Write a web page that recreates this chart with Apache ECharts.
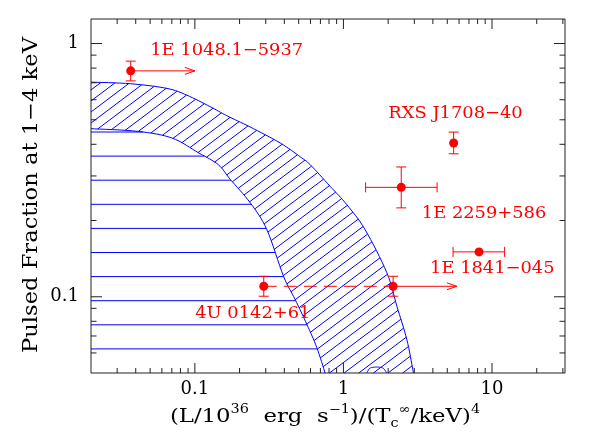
<!DOCTYPE html>
<html>
<head>
<meta charset="utf-8">
<script src="https://cdn.jsdelivr.net/npm/echarts@6/dist/echarts.min.js"></script>
<style>
  html, body { margin: 0; padding: 0; background: #fff; }
  #chart { width: 589px; height: 442px; }
</style>
</head>
<body>
<div id="chart"></div>
<script>
// axis ranges and tick labels
const xRange = [0.02, 31];
const yRange = [0.05, 1.25];
const xTickLabels = [0.1, 1, 10];
const yTickLabels = [0.1, 1];
const minorSteps = [2, 3, 4, 5, 6, 7, 8, 9];
const decades = [0.01, 0.1, 1, 10];

// upper edge of the hatched band
const upperX = [0.02, 0.0368, 0.0649, 0.0885, 0.127, 0.164, 0.236, 0.375, 0.512, 0.597, 0.814, 1.054, 1.40, 1.96, 2.29, 2.67, 2.93, 2.96];
const upperY = [0.704, 0.694, 0.665, 0.625, 0.563, 0.519, 0.468, 0.405, 0.357, 0.3325, 0.273, 0.231, 0.184, 0.1244, 0.0918, 0.0679, 0.0517, 0.05];
// lower edge of the band (top of the horizontally hatched region)
const lowerX = [0.02, 0.0413, 0.0701, 0.106, 0.1437, 0.173, 0.236, 0.3054, 0.395, 0.473, 0.5675, 0.662, 0.753];
const lowerY = [0.461, 0.450, 0.4236, 0.370, 0.3325, 0.291, 0.235, 0.184, 0.1206, 0.0976, 0.0778, 0.063, 0.05];
// small bump at the foot of the band
const bumpX = [1.436, 1.50, 1.60, 1.75, 1.86, 1.958];
const bumpY = [0.05, 0.0521, 0.0527, 0.0527, 0.0521, 0.05];

// sources
const pointX = [0.037, 5.52, 2.45, 8.18, 0.291, 2.16];
const pointY = [0.78, 0.405, 0.2705, 0.1504, 0.110, 0.110];
const yErrLo = [0.712, 0.367, 0.2244, null, 0.1005, 0.1005];
const yErrHi = [0.852, 0.447, 0.3255, null, 0.1205, 0.1205];
const xErrLo = [null, null, 1.41, 5.47, null, null];
const xErrHi = [null, null, 4.27, 12.16, null, null];
const limitTo = [0.1, null, null, null, null, 5.8];   // lower-limit arrows
const dashX = [0.291, 2.16];
const dashY = [0.110, 0.110];

const labelText = ['1E 1048.1\u22125937', 'RXS J1708\u221240', '1E 2259+586', '1E 1841\u2212045', '4U 0142+61'];
const labelX = [0.0501, 2.007, 3.37, 3.83, 0.1006];
const labelY = [0.936, 0.530, 0.2125, 0.1293, 0.0855];

const blue = '#0000ff';
const red = '#ff0000';
const serif = 'DejaVu Serif';

const chart = echarts.init(document.getElementById('chart'));

function px(api, xs, ys) {
  return xs.map((x, i) => api.coord([x, ys[i]]));
}

// Catmull-Rom smoothing of a pixel polyline
function smooth(pts, steps) {
  const out = [pts[0]];
  for (let i = 0; i < pts.length - 1; i++) {
    const p0 = pts[Math.max(i - 1, 0)], p1 = pts[i], p2 = pts[i + 1], p3 = pts[Math.min(i + 2, pts.length - 1)];
    for (let k = 1; k <= steps; k++) {
      const t = k / steps, t2 = t * t, t3 = t2 * t;
      const f = (a, b, c, d) => 0.5 * (2 * b + (-a + c) * t + (2 * a - 5 * b + 4 * c - d) * t2 + (-a + 3 * b - 3 * c + d) * t3);
      out.push([f(p0[0], p1[0], p2[0], p3[0]), f(p0[1], p1[1], p2[1], p3[1])]);
    }
  }
  return out;
}

// hatch lines inside a pixel polygon
function hatch(poly, angle, spacing, phase) {
  const s = Math.sin(angle), c = Math.cos(angle);
  const proj = poly.map(p => p[0] * s + p[1] * c);
  const lo = Math.min(...proj), hi = Math.max(...proj);
  let path = '';
  for (let k = Math.ceil((lo - phase) / spacing); phase + k * spacing < hi; k++) {
    const cc = phase + k * spacing;
    const pts = [];
    for (let i = 0; i < poly.length; i++) {
      const j = (i + 1) % poly.length;
      const va = proj[i] - cc, vb = proj[j] - cc;
      if ((va < 0) !== (vb < 0)) {
        const t = va / (va - vb);
        pts.push([poly[i][0] + t * (poly[j][0] - poly[i][0]), poly[i][1] + t * (poly[j][1] - poly[i][1])]);
      }
    }
    pts.sort((p, q) => (p[0] * c - p[1] * s) - (q[0] * c - q[1] * s));
    for (let m = 0; m + 1 < pts.length; m += 2) {
      path += 'M' + pts[m][0] + ' ' + pts[m][1] + 'L' + pts[m + 1][0] + ' ' + pts[m + 1][1];
    }
  }
  return path;
}

function renderBand(params, api) {
  const up = smooth(px(api, upperX, upperY), 8);
  const low = smooth(px(api, lowerX, lowerY), 8);
  const corner = api.coord([xRange[0], yRange[0]]);
  const bottom = corner[1];
  const band = up.concat(low.slice().reverse());
  const under = low.concat([corner]);
  const diag = hatch(band, 37 * Math.PI / 180, 8.8, bottom);
  const horiz = hatch(under, 0, 24.1, bottom - 24.1 * 100);
  const lineStyle = { stroke: blue, fill: null, lineWidth: 1 };
  const children = [];
  if (diag) children.push({ type: 'path', shape: { pathData: diag }, style: lineStyle });
  if (horiz) children.push({ type: 'path', shape: { pathData: horiz }, style: lineStyle });
  children.push({ type: 'polyline', shape: { points: up }, style: lineStyle });
  children.push({ type: 'polyline', shape: { points: low }, style: lineStyle });
  children.push({ type: 'polyline', shape: { points: smooth(px(api, bumpX, bumpY), 6) }, style: lineStyle });
  return { type: 'group', children };
}

function renderTicks(params, api) {
  let path = '';
  const seg = (a, b) => { path += 'M' + a[0] + ' ' + a[1] + 'L' + b[0] + ' ' + b[1]; };
  const inRange = (v, r) => v > r[0] * 1.0001 && v < r[1] * 0.9999;
  const xt = [], yt = [];
  decades.forEach(d => {
    if (inRange(d, xRange)) xt.push([d, 10]);
    if (inRange(d, yRange)) yt.push([d, 11]);
    minorSteps.forEach(m => {
      const v = +(m * d).toPrecision(6);
      if (inRange(v, xRange)) xt.push([v, 5]);
      if (inRange(v, yRange)) yt.push([v, 5.5]);
    });
  });
  xt.forEach(([v, len]) => {
    const b = api.coord([v, yRange[0]]), t = api.coord([v, yRange[1]]);
    seg(b, [b[0], b[1] - len]);
    seg(t, [t[0], t[1] + len]);
  });
  yt.forEach(([v, len]) => {
    const l = api.coord([xRange[0], v]), r = api.coord([xRange[1], v]);
    seg(l, [l[0] + len, l[1]]);
    seg(r, [r[0] - len, r[1]]);
  });
  return { type: 'path', shape: { pathData: path }, style: { stroke: '#222', fill: null, lineWidth: 1 } };
}

function renderErrors(params, api) {
  const children = [];
  const cap = 5;
  const line = (a, b, dash) => children.push({
    type: 'line', shape: { x1: a[0], y1: a[1], x2: b[0], y2: b[1] },
    style: { stroke: red, lineWidth: 1, lineDash: dash || null }
  });
  for (let i = 0; i < pointX.length; i++) {
    const p = api.coord([pointX[i], pointY[i]]);
    if (yErrLo[i] != null) {
      const lo = api.coord([pointX[i], yErrLo[i]]), hi = api.coord([pointX[i], yErrHi[i]]);
      line(lo, hi);
      line([lo[0] - cap, lo[1]], [lo[0] + cap, lo[1]]);
      line([hi[0] - cap, hi[1]], [hi[0] + cap, hi[1]]);
    }
    if (xErrLo[i] != null) {
      const lo = api.coord([xErrLo[i], pointY[i]]), hi = api.coord([xErrHi[i], pointY[i]]);
      line(lo, hi);
      line([lo[0], lo[1] - cap], [lo[0], lo[1] + cap]);
      line([hi[0], hi[1] - cap], [hi[0], hi[1] + cap]);
    }
    if (limitTo[i] != null) {
      const t = api.coord([limitTo[i], pointY[i]]);
      line(p, t);
      line(t, [t[0] - 10, t[1] - 3.5]);
      line(t, [t[0] - 10, t[1] + 3.5]);
    }
  }
  const d = px(api, dashX, dashY);
  line(d[0], d[1], [13, 7]);
  return { type: 'group', children };
}

function renderLabels(params, api) {
  return {
    type: 'group',
    children: labelText.map((t, i) => {
      const p = api.coord([labelX[i], labelY[i]]);
      return {
        type: 'text', x: p[0], y: p[1], scaleX: 1.05,
        style: {
          text: t, fill: red, fontFamily: serif, fontSize: 17,
          align: 'left', verticalAlign: 'middle', textAlign: 'left', textVerticalAlign: 'middle'
        }
      };
    })
  };
}

function tickFormatter(list) {
  return v => {
    const m = list.find(t => Math.abs(t - v) < t * 1e-6);
    return m === undefined ? '' : String(m);
  };
}

const dummy = [[1, 0.1]];

chart.setOption({
  animation: false,
  backgroundColor: '#fff',
  grid: {
    left: 91, right: 24, top: 19, bottom: 69,
    show: true, borderColor: '#222', borderWidth: 1,
    outerBoundsMode: 'none'
  },
  xAxis: {
    type: 'log', logBase: 10, min: xRange[0], max: xRange[1],
    axisLine: { show: false }, axisTick: { show: false }, splitLine: { show: false },
    axisLabel: { formatter: tickFormatter(xTickLabels), color: '#000', fontFamily: serif, fontSize: 18, margin: 7 }
  },
  yAxis: {
    type: 'log', logBase: 10, min: yRange[0], max: yRange[1],
    axisLine: { show: false }, axisTick: { show: false }, splitLine: { show: false },
    axisLabel: { formatter: tickFormatter(yTickLabels), color: '#000', fontFamily: serif, fontSize: 18, margin: 12 }
  },
  graphic: [
    {
      type: 'text', x: 32, y: 195, rotation: Math.PI / 2, scaleX: 1.13,
      style: {
        text: 'Pulsed Fraction at 1\u22124 keV', fill: '#000', fontFamily: serif, fontSize: 20,
        align: 'center', verticalAlign: 'middle', textAlign: 'center', textVerticalAlign: 'middle'
      }
    },
    {
      type: 'text', x: 325, y: 417, scaleX: 1.2,
      style: {
        text: '(L/10{sup|36}  erg  s{sup|\u22121})/(T{sub|c}{sup|\u221e}/keV){sup|4}',
        fill: '#000', fontFamily: serif, fontSize: 19, lineHeight: 26,
        align: 'center', verticalAlign: 'middle', textAlign: 'center', textVerticalAlign: 'middle',
        rich: {
          sup: { fontFamily: serif, fontSize: 12, lineHeight: 26, verticalAlign: 'top', fill: '#000' },
          sub: { fontFamily: serif, fontSize: 12, lineHeight: 26, verticalAlign: 'bottom', fill: '#000' }
        }
      }
    }
  ],
  series: [
    { type: 'custom', silent: true, z: 1, data: dummy, renderItem: renderBand },
    { type: 'custom', silent: true, z: 3, data: dummy, renderItem: renderErrors },
    {
      type: 'scatter', silent: true, z: 4, symbol: 'circle', symbolSize: 9,
      itemStyle: { color: red, opacity: 1 },
      data: pointX.map((x, i) => [x, pointY[i]])
    },
    { type: 'custom', silent: true, z: 5, data: dummy, renderItem: renderLabels },
    { type: 'custom', silent: true, z: 6, data: dummy, renderItem: renderTicks }
  ]
});
</script>
</body>
</html>
